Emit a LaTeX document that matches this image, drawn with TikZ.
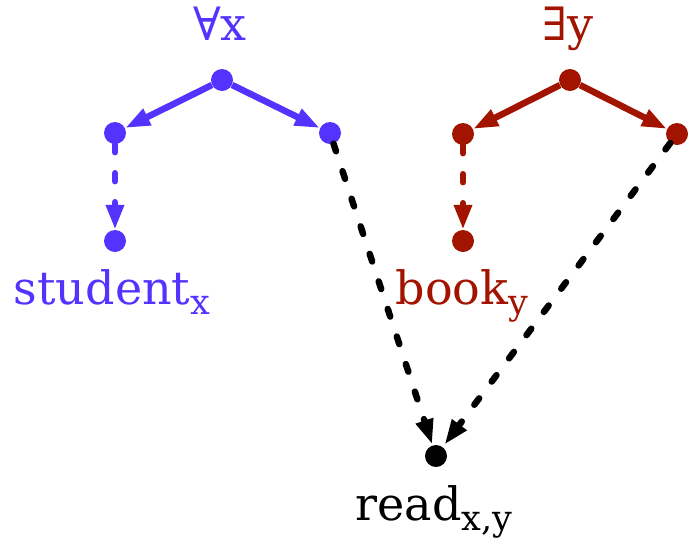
\documentclass[tikz,border=0pt]{standalone}
\usepackage{fontspec}
\setmainfont{DejaVu Serif}
\usetikzlibrary{arrows.meta}
\definecolor{qblue}{HTML}{5533FF}
\definecolor{qred}{HTML}{A21400}
\newcommand\sbs[1]{\raisebox{-0.22em}{\fontsize{35}{35}\selectfont #1}}
\begin{document}
\begin{tikzpicture}[x=1pt,y=-1pt,
 dotnode/.style={circle,fill,inner sep=0pt,minimum size=22pt},
 solidarr/.style={line width=6.5pt,-{Triangle[length=25pt,width=17pt]}},
 dasharr/.style={line width=6.5pt,line cap=round,dash pattern=on 8pt off 21pt,-{Triangle[length=25pt,width=17pt]}},
 lbl/.style={anchor=base,font=\fontsize{46}{54}\selectfont,inner sep=0pt}]
\useasboundingbox (0,0) rectangle (694,539);
% labels
\node[lbl,text=qblue] (fa) at (220,40) {∀x};
\node[lbl,text=qred] (ey) at (568,40) {∃y};
\node[lbl,text=qblue] (st) at (112,304) {student\sbs{x}};
\node[lbl,text=qred] (bk) at (462,304) {book\sbs{y}};
\node[lbl] (rd) at (434,520) {read\sbs{x,y}};
% dots
\node[dotnode,qblue] (a) at (222,80) {};
\node[dotnode,qblue] (al) at (115,133) {};
\node[dotnode,qblue] (ar) at (330,133) {};
\node[dotnode,qblue] (as) at (115,241) {};
\node[dotnode,qred] (e) at (570,80) {};
\node[dotnode,qred] (el) at (463,134) {};
\node[dotnode,qred] (er) at (677,134) {};
\node[dotnode,qred] (eb) at (463,241) {};
\node[dotnode,black] (r) at (436,456) {};
% arrows
\draw[solidarr,qblue] (a) -- (al);
\draw[solidarr,qblue] (a) -- (ar);
\draw[dasharr,qblue] (al) -- (as);
\draw[solidarr,qred] (e) -- (el);
\draw[solidarr,qred] (e) -- (er);
\draw[dasharr,qred] (el) -- (eb);
\draw[dasharr,black,shorten >=1pt] (ar) -- (r);
\draw[dasharr,black,shorten >=3pt] (er) -- (r);
\end{tikzpicture}
\end{document}
